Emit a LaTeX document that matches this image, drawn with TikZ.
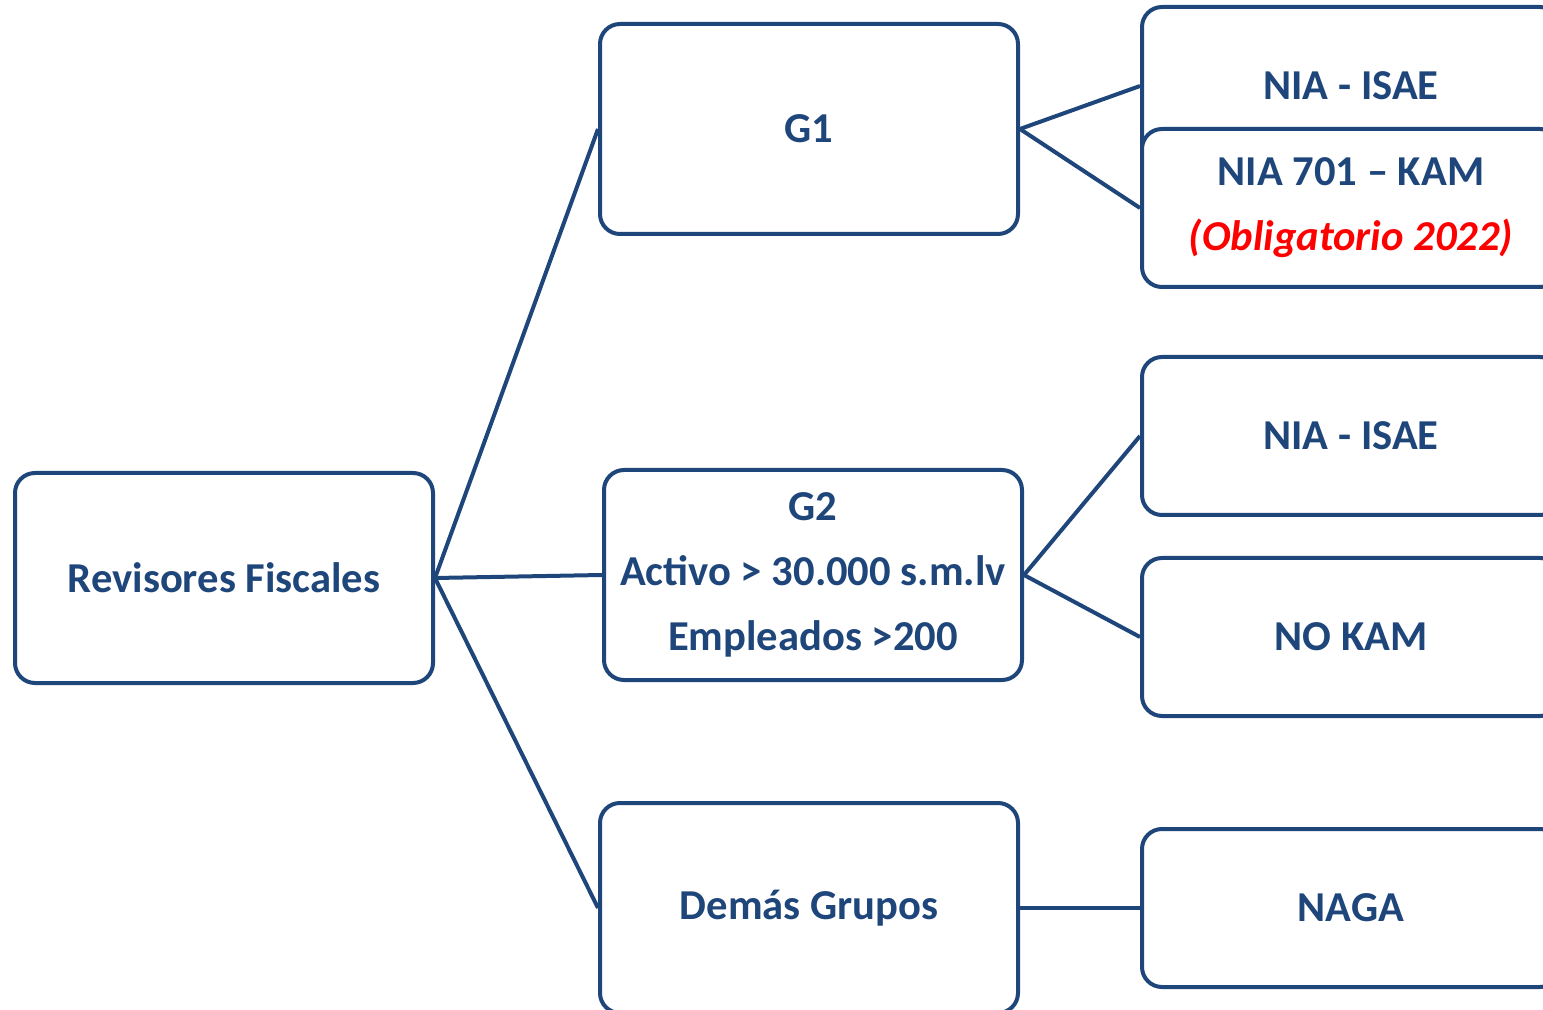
\documentclass[tikz,border=0pt]{standalone}
\usepackage{fontspec}
\setmainfont{Carlito}
\definecolor{azul}{RGB}{31,70,122}
\begin{document}
\begin{tikzpicture}[x=0.5pt, y=-0.5pt,
    box/.style={rectangle, draw=azul, line width=2pt, rounded corners=10pt, fill=white,
        minimum width=209pt, align=center, text=azul,
        font=\fontsize{21.3}{32.5}\selectfont\bfseries},
    big/.style={box, minimum height=105pt},
    small/.style={box, minimum height=79pt},
    line/.style={azul, line width=2pt}]
    \useasboundingbox (0,0) rectangle (1543,1010);
    \clip (0,0) rectangle (1543,1010);
    \node (1) at (224,578) [big] {Revisores Fiscales};
    \node (2) at (809,129) [big] {G1};
    \node (3) at (813,575) [big] {G2\\Activo > 30.000 s.m.lv\\Empleados >200};
    \node (4) at (809,908) [big] {Demás Grupos};
    \node (5) at (1351,86) [small] {NIA - ISAE};
    \node (6) at (1351,208) [small] {NIA 701 – KAM\\\textcolor{red}{\itshape(Obligatorio 2022)}};
    \node (7) at (1351,436) [small] {NIA - ISAE};
    \node (8) at (1351,637) [small] {NO KAM};
    \node (9) at (1351,908) [small] {NAGA};
    \draw[line] (1.east) to (2.west);
    \draw[line] (1.east) to (3.west);
    \draw[line] (1.east) to (4.west);
    \draw[line] (2.east) to (5.west);
    \draw[line] (2.east) to (6.west);
    \draw[line] (3.east) to (7.west);
    \draw[line] (3.east) to (8.west);
    \draw[line] (4.east) to (9.west);
\end{tikzpicture}
\end{document}
